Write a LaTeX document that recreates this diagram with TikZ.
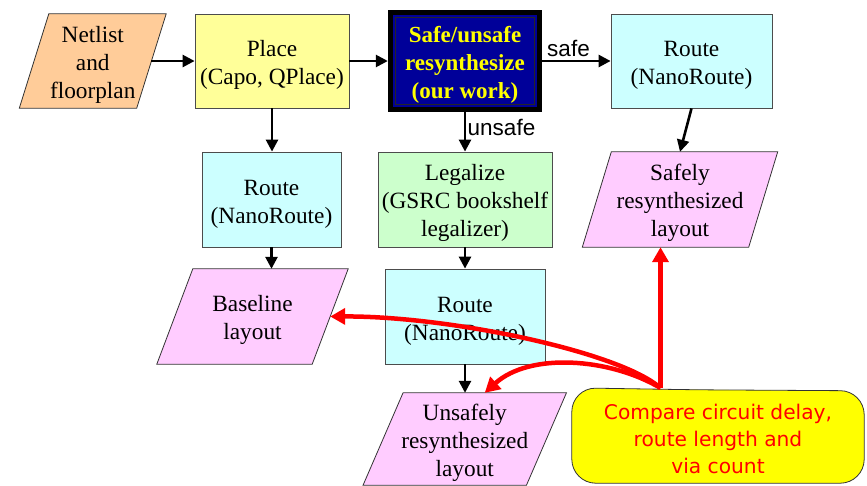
\documentclass[tikz,border=0pt]{standalone}
\usepackage{fontspec}
\setmainfont{Liberation Serif}
\setsansfont{Liberation Sans}
\newfontfamily\dejavu{DejaVu Sans}
\usetikzlibrary{arrows.meta,backgrounds}
\definecolor{peach}{HTML}{FFCC99}
\definecolor{paleyellow}{HTML}{FFFF99}
\definecolor{palecyan}{HTML}{CCFFFF}
\definecolor{palegreen}{HTML}{CCFFCC}
\definecolor{palepink}{HTML}{FFCCFF}
\definecolor{navyblue}{HTML}{000099}
\definecolor{brightyellow}{HTML}{FFFF00}
\definecolor{brightred}{HTML}{FF0000}
\newcommand\tstrut{\rule{0pt}{24pt}}
\newcommand\cstrut{\rule{0pt}{23pt}}
\begin{document}
\begin{tikzpicture}[x=1pt,y=-1pt,
  txt/.style={font=\fontsize{23.3}{28}\selectfont, align=center, inner sep=0pt},
  box/.style={txt, draw=black!70, line width=0.8pt},
  paraedge/.style={draw=black!80, line width=0.8pt},
  flow/.style={line width=2.6pt, -{Triangle[length=12pt,width=12pt]}},
  redflow/.style={line width=4.5pt, brightred, -{Triangle[length=15pt,width=16pt]}},
  lbl/.style={font=\sffamily\fontsize{22.5}{27}\selectfont, inner sep=0pt}]
\useasboundingbox (0,0) rectangle (867,485);

% nodes
\node[txt, minimum width=117pt, minimum height=94pt] (netlist) at (92.75,61) {\tstrut Netlist\\and\\floorplan};
\node[box, fill=paleyellow, minimum width=154pt, minimum height=94pt] (place) at (272,61) {\tstrut Place\\(Capo, QPlace)};
\node[txt, text=brightyellow, font=\bfseries\fontsize{23}{28}\selectfont, minimum width=154pt, minimum height=102pt] (safe) at (465,61) {\tstrut Safe/unsafe\\resynthesize\\(our work)};
\node[box, fill=palecyan, minimum width=161pt, minimum height=94pt] (route1) at (691.5,61) {\tstrut Route\\(NanoRoute)};
\node[box, fill=palecyan, minimum width=139pt, minimum height=95pt] (routeL) at (271.5,199.5) {\tstrut Route\\(NanoRoute)};
\node[box, fill=palegreen, minimum width=174pt, minimum height=95pt] (legal) at (465,199.5) {\tstrut Legalize\\(GSRC bookshelf\\legalizer)};
\node[txt, minimum width=166pt, minimum height=95pt] (safely) at (680,199.5) {\tstrut Safely\\resynthesized\\layout};
\node[txt, minimum width=155pt, minimum height=95pt] (baseline) at (252.5,316.5) {\tstrut Baseline\\layout};
\node[box, fill=palecyan, minimum width=160pt, minimum height=95pt] (routeM) at (465,316.5) {\tstrut Route\\(NanoRoute)};
\node[txt, minimum width=163pt, minimum height=92pt] (unsafely) at (464.75,439) {\tstrut Unsafely\\resynthesized\\layout};
\node[minimum width=292pt, minimum height=95pt, inner sep=0pt, align=center,
      text=brightred, font=\dejavu\fontsize{20.2}{27}\selectfont] (cmp) at (718,435.5)
      {\cstrut Compare circuit delay,\\route length and\\via count};

\begin{pgfonlayer}{background}
  \path[paraedge, fill=peach] ([xshift=14.75pt]netlist.north west) -- ([xshift=14.75pt]netlist.north east) -- ([xshift=-14.75pt]netlist.south east) -- ([xshift=-14.75pt]netlist.south west) -- cycle;
  \path[paraedge, fill=palepink] ([xshift=14.5pt]safely.north west) -- ([xshift=14.5pt]safely.north east) -- ([xshift=-14.5pt]safely.south east) -- ([xshift=-14.5pt]safely.south west) -- cycle;
  \path[paraedge, fill=palepink] ([xshift=18pt]baseline.north west) -- ([xshift=18pt]baseline.north east) -- ([xshift=-18pt]baseline.south east) -- ([xshift=-18pt]baseline.south west) -- cycle;
  \path[paraedge, fill=palepink] ([xshift=20pt]unsafely.north west) -- ([xshift=20pt]unsafely.north east) -- ([xshift=-20pt]unsafely.south east) -- ([xshift=-20pt]unsafely.south west) -- cycle;
  \fill[black] (safe.north west) rectangle (safe.south east);
  \fill[navyblue] ([shift={(5pt,-5pt)}]safe.north west) rectangle ([shift={(-5pt,5pt)}]safe.south east);
  \draw[black!85, line width=0.7pt] ([shift={(7.5pt,-7.5pt)}]safe.north west) rectangle ([shift={(-7.5pt,7.5pt)}]safe.south east);
  \path[fill=brightyellow, draw=black!80, line width=0.8pt, rounded corners=24pt]
    (cmp.south west) -- (cmp.north west) -- ([xshift=125pt,yshift=-2pt]cmp.north west)
    -- ([yshift=-3pt]cmp.north east) -- (cmp.south east) -- cycle;
\end{pgfonlayer}

% black connectors
\draw[flow] (netlist.east) -- (place.west);
\draw[flow] (place.east) -- (safe.west);
\draw[flow] (safe.east) -- (route1.west);
\node[lbl] (safelbl) at (568.5,48) {safe};
\draw[flow] (safe.south) -- (legal.north);
\node[lbl] (unsafelbl) at (501.5,127) {unsafe};
\draw[flow] (route1.south) -- (safely.north);
\draw[flow] (place.south) -- (place.south |- routeL.north);
\draw[flow] (routeL.south) -- (routeL.south |- baseline.north);
\draw[flow] (legal.south) -- (routeM.north);
\draw[flow] (routeM.south) -- (routeM.south |- unsafely.north);

% red connectors
\coordinate (src) at (660.5,388);
\draw[redflow] (src) -- (src |- safely.south);
\draw[redflow] (src) .. controls (620,352) and (450,316) .. (baseline.east);
\draw[redflow] (src) .. controls (610,358) and (530,352) .. ([xshift=20pt]unsafely.north);
\end{tikzpicture}
\end{document}
